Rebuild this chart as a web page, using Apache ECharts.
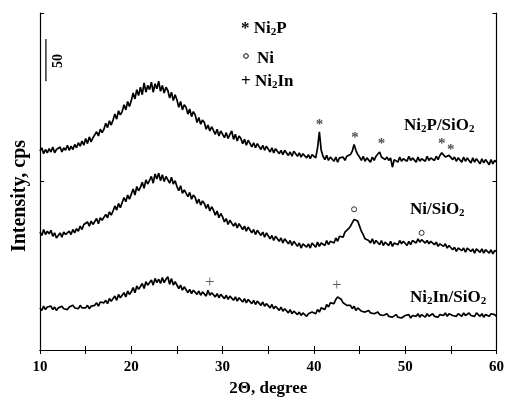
<!DOCTYPE html>
<html>
<head>
<meta charset="utf-8">
<script src="https://cdn.jsdelivr.net/npm/echarts@6/dist/echarts.min.js"></script>
<style>
  html, body { margin: 0; padding: 0; background: #fff; }
  #chart { width: 507px; height: 403px; }
</style>
</head>
<body>
<div id="chart"></div>
<script>
// 2Θ sampling: 10° .. 60°, every 0.2°
const angleStart = 10;
const angleStep = 0.2;

// intensity (cps), one row per degree
const ni2pSiO2 = [
  236, 240, 233, 238, 234,  239, 235, 241, 234, 238,  236, 241, 235, 240, 237,
  243, 237, 242, 238, 244,  240, 246, 242, 248, 243,  251, 245, 253, 247, 252,
  253, 259, 254, 262, 258,  262, 269, 264, 272, 267,  273, 280, 274, 284, 279,
  283, 291, 285, 295, 289,  296, 305, 298, 309, 302,  312, 303, 317, 306, 314,
  309, 318, 306, 316, 310,  319, 307, 314, 305, 312,  308, 299, 306, 296, 303,
  297, 288, 295, 285, 291,  288, 280, 286, 277, 283,  279, 270, 276, 268, 273,
  270, 262, 267, 260, 265,  263, 256, 262, 254, 260,  259, 252, 258, 251, 256,
  260, 250, 256, 248, 254,  251, 245, 250, 243, 249,  247, 241, 246, 240, 245,
  244, 238, 243, 237, 242,  241, 235, 240, 234, 239,  238, 233, 237, 232, 237,
  236, 231, 235, 230, 236,  235, 230, 234, 229, 233,  233, 228, 232, 227, 232,
  231, 228, 240, 259, 237,  230, 226, 231, 225, 229,  228, 224, 229, 223, 228,
  226, 229, 225, 230, 228,  232, 236, 244, 237, 232,  229, 225, 230, 224, 228,
  227, 223, 229, 225, 230,  232, 235, 229, 231, 226,  229, 225, 228, 217, 226,
  228, 223, 229, 224, 227,  229, 224, 230, 225, 228,  228, 223, 229, 224, 227,
  229, 224, 230, 225, 228,  228, 225, 230, 226, 231,  234, 236, 229, 227, 231,
  232, 226, 229, 224, 228,  227, 223, 229, 224, 228,  226, 222, 228, 223, 227,
  225, 221, 227, 222, 226,  225, 220, 226, 221, 225,  223
];
const niSiO2 = [
  140, 136, 143, 137, 141,  138, 142, 135, 139, 133,  136, 139, 134, 140, 137,
  136, 141, 137, 143, 139,  144, 141, 147, 143, 149,  148, 152, 147, 153, 149,
  151, 156, 150, 157, 154,  156, 161, 157, 164, 160,  165, 171, 166, 174, 169,
  175, 181, 176, 184, 179,  185, 191, 184, 194, 189,  193, 199, 192, 202, 197,
  199, 206, 198, 209, 203,  210, 201, 208, 200, 206,  207, 198, 205, 197, 201,
  194, 189, 195, 186, 190,  189, 182, 187, 179, 184,  181, 174, 179, 172, 177,
  174, 168, 173, 165, 170,  166, 160, 165, 157, 162,  158, 152, 156, 149, 154,
  152, 147, 151, 145, 150,  148, 143, 147, 141, 146,  144, 139, 143, 137, 142,
  141, 136, 140, 134, 139,  137, 132, 136, 130, 135,  134, 129, 133, 127, 132,
  131, 126, 130, 124, 129,  128, 123, 127, 121, 126,  127, 122, 126, 121, 127,
  126, 122, 128, 123, 127,  128, 124, 130, 125, 129,  131, 127, 133, 129, 135,
  137, 134, 140, 138, 144,  147, 151, 155, 157, 153,  147, 141, 137, 132, 133,
  130, 127, 132, 126, 130,  129, 125, 130, 124, 128,  128, 124, 129, 123, 127,
  128, 125, 130, 126, 129,  128, 124, 129, 125, 130,  130, 127, 132, 128, 131,
  131, 127, 130, 126, 129,  129, 125, 128, 123, 126,  127, 123, 126, 121, 124,
  123, 119, 122, 117, 121,  122, 118, 121, 116, 121,  121, 117, 120, 115, 120,
  121, 116, 120, 115, 119,  120, 115, 119, 114, 118,  117
];
const ni2inSiO2 = [
  50, 47, 52, 48, 51,  49, 52, 48, 51, 47,  50, 48, 52, 49, 51,
  48, 51, 49, 53, 50,  52, 49, 53, 50, 52,  50, 53, 49, 52, 51,
  53, 56, 52, 57, 55,  56, 59, 55, 61, 58,  60, 64, 59, 66, 62,
  64, 68, 63, 70, 66,  69, 74, 68, 76, 72,  74, 79, 73, 81, 77,
  78, 83, 77, 85, 80,  84, 79, 86, 80, 84,  87, 78, 85, 77, 81,
  79, 73, 77, 71, 75,  74, 68, 72, 67, 71,  71, 66, 70, 65, 69,
  70, 64, 71, 65, 68,  68, 63, 67, 62, 66,  66, 61, 65, 60, 64,
  64, 59, 63, 58, 62,  62, 57, 61, 56, 60,  60, 55, 59, 54, 58,
  58, 53, 57, 52, 55,  55, 50, 54, 49, 52,  52, 47, 51, 46, 49,
  49, 44, 48, 43, 46,  46, 42, 45, 41, 44,  44, 40, 43, 41, 45,
  46, 43, 48, 45, 50,  51, 48, 54, 51, 56,  57, 55, 60, 63, 61,
  60, 56, 58, 53, 55,  53, 49, 52, 47, 50,  49, 46, 48, 45, 47,
  47, 44, 46, 43, 45,  45, 42, 44, 41, 43,  43, 40, 42, 39, 41,
  42, 39, 41, 38, 40,  41, 39, 42, 38, 41,  42, 40, 43, 39, 42,
  42, 39, 43, 40, 42,  43, 40, 42, 39, 42,  43, 41, 44, 40, 43,
  44, 41, 43, 40, 43,  43, 40, 44, 41, 43,  44, 41, 43, 40, 44,
  42, 40, 43, 39, 42,  43, 40, 43, 41, 42,  40
];

// phase markers [2Θ, cps]
const ni2pPeaks = [[40.6, 267], [44.5, 251], [47.4, 244], [54.0, 244], [55.0, 237]];
const niPeaks = [[44.4, 167], [51.8, 139]];
const ni2inPeaks = [[28.6, 80], [42.5, 76]];

// 50 cps scale bar
const scaleBarX = 10.65;
const scaleBar = [319, 369];

const xTicks = [10, 20, 30, 40, 50, 60];

const FONT = '"Liberation Serif", "Times New Roman", serif';
const angles = ni2pSiO2.map((_, i) => +(angleStart + i * angleStep).toFixed(2));
const toPairs = arr => arr.map((v, i) => [angles[i], v]);

const rich = {
  b: { fontFamily: FONT, fontWeight: 'bold', fontSize: 17, color: '#000' },
  s: { fontFamily: FONT, fontWeight: 'bold', fontSize: 11, color: '#000', padding: [8, 0, 0, 0] }
};

const chart = echarts.init(document.getElementById('chart'));

function lineSeries(name, values) {
  return {
    name: name,
    type: 'line',
    data: toPairs(values),
    showSymbol: false,
    symbol: 'none',
    animation: false,
    lineStyle: { color: '#000', width: 1.7 }
  };
}

function textMarks(points, text, size, weight, color) {
  return {
    type: 'scatter',
    data: points,
    symbolSize: 0,
    silent: true,
    animation: false,
    label: {
      show: true,
      position: 'inside',
      formatter: text,
      fontFamily: FONT,
      fontSize: size,
      fontWeight: weight,
      color: color
    }
  };
}

const option = {
  backgroundColor: '#fff',
  animation: false,
  grid: { left: 40, right: 10, top: 13, bottom: 53 },
  xAxis: [
    {
      type: 'value', min: 10, max: 60, interval: 5,
      axisLine: { lineStyle: { color: '#000', width: 1.2 } },
      axisTick: { inside: true, length: 4, lineStyle: { color: '#000' } },
      axisLabel: {
        formatter: v => (xTicks.indexOf(v) >= 0 ? String(v) : ''),
        fontFamily: FONT, fontWeight: 'bold', fontSize: 15, color: '#000', margin: 10
      },
      splitLine: { show: false },
      name: '2Θ, degree', nameLocation: 'middle', nameGap: 29,
      nameTextStyle: { fontFamily: FONT, fontWeight: 'bold', fontSize: 17, color: '#000' }
    },
    {
      type: 'value', min: 10, max: 60, interval: 5, position: 'top',
      axisLine: { lineStyle: { color: '#000', width: 1.2 } },
      axisTick: { inside: true, length: 4, lineStyle: { color: '#000' } },
      axisLabel: { show: false },
      splitLine: { show: false }
    }
  ],
  yAxis: [
    {
      type: 'value', min: 0, max: 400, interval: 200,
      axisLine: { show: true, lineStyle: { color: '#000', width: 1.2 } },
      axisTick: { show: true, inside: true, length: 4, lineStyle: { color: '#000' } },
      axisLabel: { show: false },
      splitLine: { show: false }
    },
    {
      type: 'value', min: 0, max: 400, interval: 200, position: 'right',
      axisLine: { show: true, lineStyle: { color: '#000', width: 1.2 } },
      axisTick: { show: true, inside: true, length: 4, lineStyle: { color: '#000' } },
      axisLabel: { show: false },
      splitLine: { show: false }
    }
  ],
  series: [
    lineSeries('Ni2P/SiO2', ni2pSiO2),
    lineSeries('Ni/SiO2', niSiO2),
    lineSeries('Ni2In/SiO2', ni2inSiO2),
    {
      type: 'line',
      data: scaleBar.map(v => [scaleBarX, v]),
      symbol: 'none',
      animation: false,
      lineStyle: { color: '#000', width: 1.2 }
    },
    textMarks(ni2pPeaks, '*', 15, 'bold', '#222'),
    {
      type: 'scatter',
      data: niPeaks,
      symbol: 'circle',
      symbolSize: 5,
      silent: true,
      animation: false,
      itemStyle: { color: 'rgba(255,255,255,0)', borderColor: '#000', borderWidth: 1 }
    },
    textMarks(ni2inPeaks, '+', 17, 'normal', '#333')
  ],
  graphic: [
    {
      type: 'text', x: 58, y: 61, rotation: Math.PI / 2,
      style: { text: '50', font: 'bold 14px ' + FONT, fill: '#000', align: 'center', verticalAlign: 'middle' }
    },
    {
      type: 'text', x: 20, y: 196, rotation: Math.PI / 2,
      style: { text: 'Intensity, cps', font: 'bold 20px ' + FONT, fill: '#000', align: 'center', verticalAlign: 'middle' }
    },
    {
      type: 'text', left: 241, top: 20,
      style: { text: '{b|* Ni}{s|2}{b|P}', rich: rich }
    },
    {
      type: 'circle', shape: { cx: 246, cy: 56, r: 2.3 },
      style: { fill: 'none', stroke: '#000', lineWidth: 1 }
    },
    {
      type: 'text', left: 257, top: 50,
      style: { text: '{b|Ni}', rich: rich }
    },
    {
      type: 'text', left: 241, top: 73,
      style: { text: '{b|+ Ni}{s|2}{b|In}', rich: rich }
    },
    {
      type: 'text', left: 404, top: 117,
      style: { text: '{b|Ni}{s|2}{b|P/SiO}{s|2}', rich: rich }
    },
    {
      type: 'text', left: 410, top: 201,
      style: { text: '{b|Ni/SiO}{s|2}', rich: rich }
    },
    {
      type: 'text', left: 410, top: 289,
      style: { text: '{b|Ni}{s|2}{b|In/SiO}{s|2}', rich: rich }
    }
  ]
};

chart.setOption(option);
window.addEventListener('resize', function () {
  chart.resize();
});
</script>
</body>
</html>
